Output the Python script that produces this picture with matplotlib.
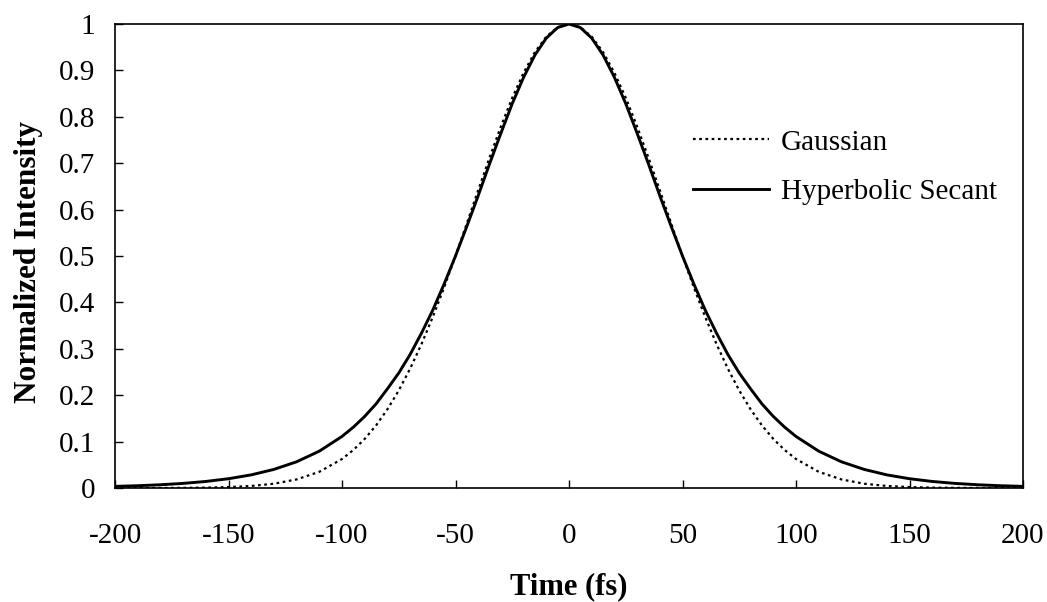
import matplotlib
matplotlib.use("Agg")
import matplotlib.pyplot as plt

# pulse shapes (time in fs, normalized intensity)
time_fs = [-200, -190, -180, -170, -160, -150, -140, -130, -120, -110, -100,
           -95, -90, -85, -80, -75, -70, -65, -60, -55, -50, -45, -40, -35,
           -30, -25, -20, -15, -10, -5, 0, 5, 10, 15, 20, 25, 30, 35, 40, 45,
           50, 55, 60, 65, 70, 75, 80, 85, 90, 95, 100, 110, 120, 130, 140,
           150, 160, 170, 180, 190, 200]

gaussian = [0.0000, 0.0000, 0.0001, 0.0003, 0.0008, 0.0020, 0.0044, 0.0092,
            0.0185, 0.0349, 0.0625, 0.0819, 0.1058, 0.1349, 0.1696, 0.2102,
            0.2570, 0.3099, 0.3686, 0.4323, 0.5000, 0.5704, 0.6417, 0.7120,
            0.7792, 0.8409, 0.8950, 0.9395, 0.9727, 0.9931, 1.0000, 0.9931,
            0.9727, 0.9395, 0.8950, 0.8409, 0.7792, 0.7120, 0.6417, 0.5704,
            0.5000, 0.4323, 0.3686, 0.3099, 0.2570, 0.2102, 0.1696, 0.1349,
            0.1058, 0.0819, 0.0625, 0.0349, 0.0185, 0.0092, 0.0044, 0.0020,
            0.0008, 0.0003, 0.0001, 0.0000, 0.0000]

hyp_secant = [0.0035, 0.0049, 0.0070, 0.0099, 0.0141, 0.0200, 0.0283, 0.0401,
              0.0565, 0.0794, 0.1111, 0.1311, 0.1543, 0.1812, 0.2137, 0.2478,
              0.2877, 0.3336, 0.3835, 0.4397, 0.5000, 0.5640, 0.6301, 0.6986,
              0.7646, 0.8284, 0.8851, 0.9332, 0.9696, 0.9923, 1.0000, 0.9923,
              0.9696, 0.9332, 0.8851, 0.8284, 0.7646, 0.6986, 0.6301, 0.5640,
              0.5000, 0.4397, 0.3835, 0.3336, 0.2877, 0.2478, 0.2137, 0.1812,
              0.1543, 0.1311, 0.1111, 0.0794, 0.0565, 0.0401, 0.0283, 0.0200,
              0.0141, 0.0099, 0.0070, 0.0049, 0.0035]

x_ticks = [-200, -150, -100, -50, 0, 50, 100, 150, 200]
x_tick_labels = ['-200', '-150', '-100', '-50', '0', '50', '100', '150', '200']
y_ticks = [0, 0.1, 0.2, 0.3, 0.4, 0.5, 0.6, 0.7, 0.8, 0.9, 1]
y_tick_labels = ['0', '0.1', '0.2', '0.3', '0.4', '0.5', '0.6', '0.7', '0.8', '0.9', '1']

plt.rcParams['font.family'] = ['Liberation Serif', 'DejaVu Serif']

fig = plt.figure(figsize=(10.47, 6.02), dpi=100)
ax = fig.add_axes([115 / 1047, 1 - 488 / 602, (1023 - 115) / 1047, (488 - 24) / 602])

ax.plot(time_fs, gaussian, color='black', linestyle=(0, (1.2, 1.6)), linewidth=1.6,
        label='Gaussian')
ax.plot(time_fs, hyp_secant, color='black', linestyle='-', linewidth=2.1,
        label='Hyperbolic Secant')

ax.set_xlim(-200, 200)
ax.set_ylim(0, 1)
ax.set_xticks(x_ticks)
ax.set_xticklabels(x_tick_labels)
ax.set_yticks(y_ticks)
ax.set_yticklabels(y_tick_labels)
ax.tick_params(direction='in', length=6, width=1, labelsize=21)
ax.tick_params(axis='y', pad=14)
ax.tick_params(axis='x', pad=25)

for s in ax.spines.values():
    s.set_linewidth(1.2)

ax.set_xlabel('Time (fs)', fontsize=22, fontweight='bold', labelpad=17)
ax.set_ylabel('Normalized Intensity', fontsize=22.5, fontweight='bold', labelpad=12)
ax.yaxis.label.set_y(0.487)

ax.legend(loc='upper left', bbox_to_anchor=(0.608, 0.83), frameon=False,
          fontsize=21, handlelength=2.6, handletextpad=0.4, labelspacing=0.8)

plt.savefig('out.png', dpi=100)
